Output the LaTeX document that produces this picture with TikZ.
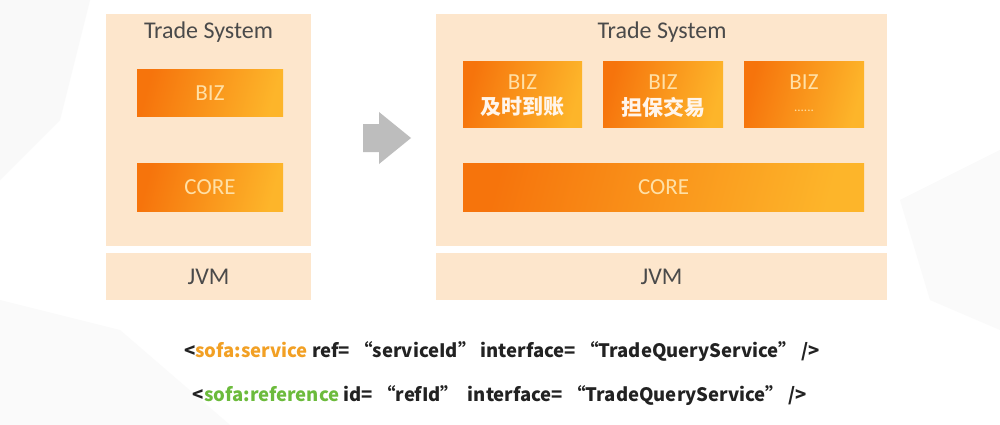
\documentclass[tikz,border=0pt]{standalone}
\usepackage{fontspec}
\setmainfont{Carlito}
\newfontfamily\cjk{Noto Sans CJK SC}
\definecolor{pale}{HTML}{FDE6CC}
\definecolor{odark}{HTML}{F6740C}
\definecolor{olight}{HTML}{FDB52A}
\definecolor{otext}{HTML}{FFE0A6}
\definecolor{tgray}{HTML}{4A4A4A}
\definecolor{codeor}{HTML}{F2A024}
\definecolor{codegr}{HTML}{6CBB3C}
\definecolor{codetx}{HTML}{222222}
\definecolor{arrowgray}{HTML}{BDBDBD}
\tikzset{
  palebox/.style={fill=pale, draw=none, inner sep=0pt},
  orbox/.style={left color=odark, right color=olight, shading angle=75, draw=none, inner sep=0pt, text=otext, font=\fontsize{23}{24}\selectfont, align=center},
  title/.style={text=tgray, font=\fontsize{24}{26}\selectfont, inner sep=0pt},
  jvmtext/.style={text=tgray, font=\fontsize{24}{26}\selectfont},
  cjktext/.style={font=\cjk\bfseries\fontsize{21}{24}\selectfont, text=white!92!orange},
  codeline/.style={text=codetx, font=\cjk\bfseries\fontsize{18.5}{22}\selectfont, inner sep=0pt}
}
\begin{document}
\begin{tikzpicture}[x=1pt,y=-1pt]
\useasboundingbox (0,0) rectangle (1000,425);
\fill[white] (0,0) rectangle (1000,425);
% faint background shapes
\fill[black!2.5] (0,0) -- (90,0) -- (60,120) -- (0,180) -- cycle;
\fill[black!2] (900,200) -- (1000,150) -- (1000,330) -- (930,300) -- cycle;
\fill[black!2] (0,300) -- (120,330) -- (230,425) -- (0,425) -- cycle;
% left system
\node[palebox, minimum width=205pt, minimum height=231pt] (ts1) at (208.5,130) {};
\node[title] (ts1t) at (208.5,32) {Trade System};
\node[orbox, minimum width=146pt, minimum height=47pt] (biz1) at (210,93.5) {BIZ};
\node[orbox, minimum width=146pt, minimum height=48pt] (core1) at (210,187) {CORE};
\node[palebox, jvmtext, minimum width=205pt, minimum height=47pt] (jvm1) at (208.5,276.5) {JVM};
% arrow
\fill[arrowgray] (363,124) -- (379,124) -- (379,112) -- (411,138) -- (379,164) -- (379,152) -- (363,152) -- cycle;
% right system
\node[palebox, minimum width=451pt, minimum height=231pt] (ts2) at (661.5,130) {};
\node[title] (ts2t) at (662,32) {Trade System};
\node[orbox, minimum width=119pt, minimum height=65pt] (biza) at (522.5,94.5) {};
\node[orbox, minimum width=120pt, minimum height=65pt] (bizb) at (663,94.5) {};
\node[orbox, minimum width=120pt, minimum height=65pt] (bizc) at (804,94.5) {};
\node[text=otext, font=\fontsize{23}{24}\selectfont, inner sep=0pt] (bizat) at (522.5,82) {BIZ};
\node[text=otext, font=\fontsize{23}{24}\selectfont, inner sep=0pt] (bizbt) at (663,82) {BIZ};
\node[text=otext, font=\fontsize{23}{24}\selectfont, inner sep=0pt] (bizct) at (804,82) {BIZ};
\node[cjktext, inner sep=0pt] (bizac) at (522.5,107) {及时到账};
\node[cjktext, inner sep=0pt] (bizbc) at (663,107) {担保交易};
\node[text=otext, font=\fontsize{13}{14}\selectfont, inner sep=0pt] (bizcc) at (804,111) {......};
\node[orbox, minimum width=401pt, minimum height=48pt] (core2) at (663.5,187) {CORE};
\node[palebox, jvmtext, minimum width=451pt, minimum height=47pt] (jvm2) at (661.5,276.5) {JVM};
% code lines
\node[codeline] (l1) at (502,352) {<{\color{codeor}sofa:service} ref= “serviceId” interface= “TradeQueryService” />};
\node[codeline] (l2) at (500,396) {<{\color{codegr}sofa:reference} id= “refId”\ \ interface= “TradeQueryService” />};
\end{tikzpicture}
\end{document}
